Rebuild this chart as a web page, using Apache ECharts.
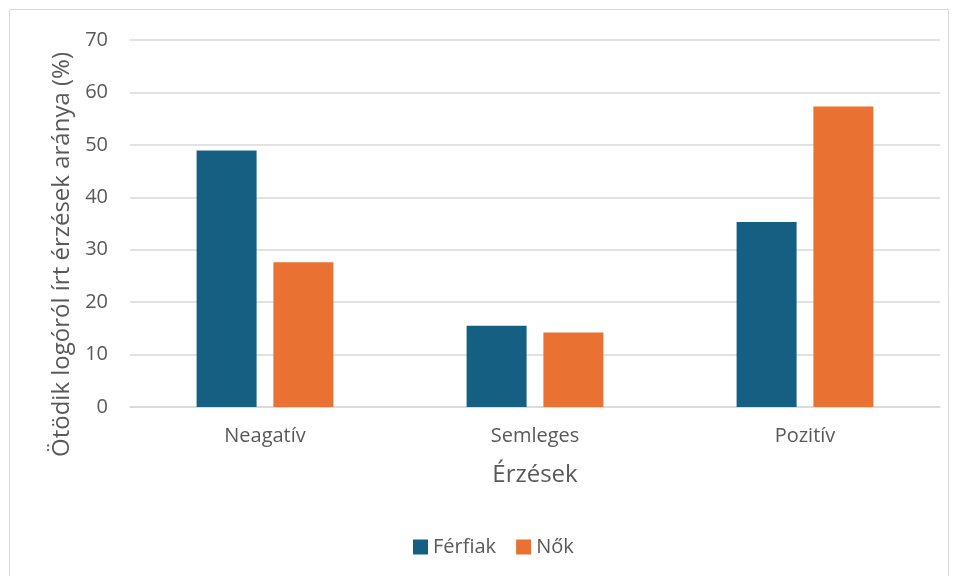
<!DOCTYPE html>
<html><head><meta charset="utf-8">
<script src="https://cdn.jsdelivr.net/npm/echarts@6/dist/echarts.min.js"></script>
<style>html,body{margin:0;padding:0;background:#fff}#c{width:958px;height:576px}</style>
</head><body><div id="c"></div>
<script>
const categories = ['Neagatív', 'Semleges', 'Pozitív'];
const ferfiak = [48.9, 15.5, 35.3];
const nok = [27.6, 14.2, 57.3];
const yTicks = { min: 0, max: 70, interval: 10 };

const chart = echarts.init(document.getElementById('c'));
const font = 'Open Sans';
const txt = '#595959';
chart.setOption({
  animation: false,
  textStyle: { fontFamily: font },
  graphic: [{ type: 'rect', shape: { x: 9.5, y: 9.5, width: 939, height: 580 }, style: { fill: 'none', stroke: '#d9d9d9', lineWidth: 1 } }],
  grid: { left: 130, right: 18, top: 40, bottom: 169 },
  legend: {
    bottom: 14, left: 408, itemWidth: 15, itemHeight: 15, itemGap: 20, icon: 'rect',
    textStyle: { color: txt, fontSize: 20, fontFamily: font },
    data: ['Férfiak', 'Nők']
  },
  xAxis: {
    type: 'category', data: categories,
    name: 'Érzések', nameLocation: 'middle', nameGap: 56,
    nameTextStyle: { color: txt, fontSize: 24, fontFamily: font },
    axisLine: { lineStyle: { color: '#d9d9d9', width: 1.5 } },
    axisTick: { show: false },
    axisLabel: { color: txt, fontSize: 20, margin: 19, fontFamily: font }
  },
  yAxis: {
    type: 'value', min: yTicks.min, max: yTicks.max, interval: yTicks.interval,
    name: 'Ötödik logóról írt érzések aránya (%)', nameLocation: 'middle', nameGap: 56,
    nameTextStyle: { color: txt, fontSize: 24, fontFamily: font, padding: [0, 62, 0, 0] },
    axisLine: { show: false }, axisTick: { show: false },
    axisLabel: { color: txt, fontSize: 20, margin: 22, fontFamily: font },
    splitLine: { lineStyle: { color: '#d9d9d9', width: 1.5 } }
  },
  series: [
    { name: 'Férfiak', type: 'bar', data: ferfiak, barWidth: 60, barGap: '28%', itemStyle: { color: '#156082' } },
    { name: 'Nők', type: 'bar', data: nok, barWidth: 60, barGap: '28%', itemStyle: { color: '#e97132' } }
  ]
});
</script></body></html>
